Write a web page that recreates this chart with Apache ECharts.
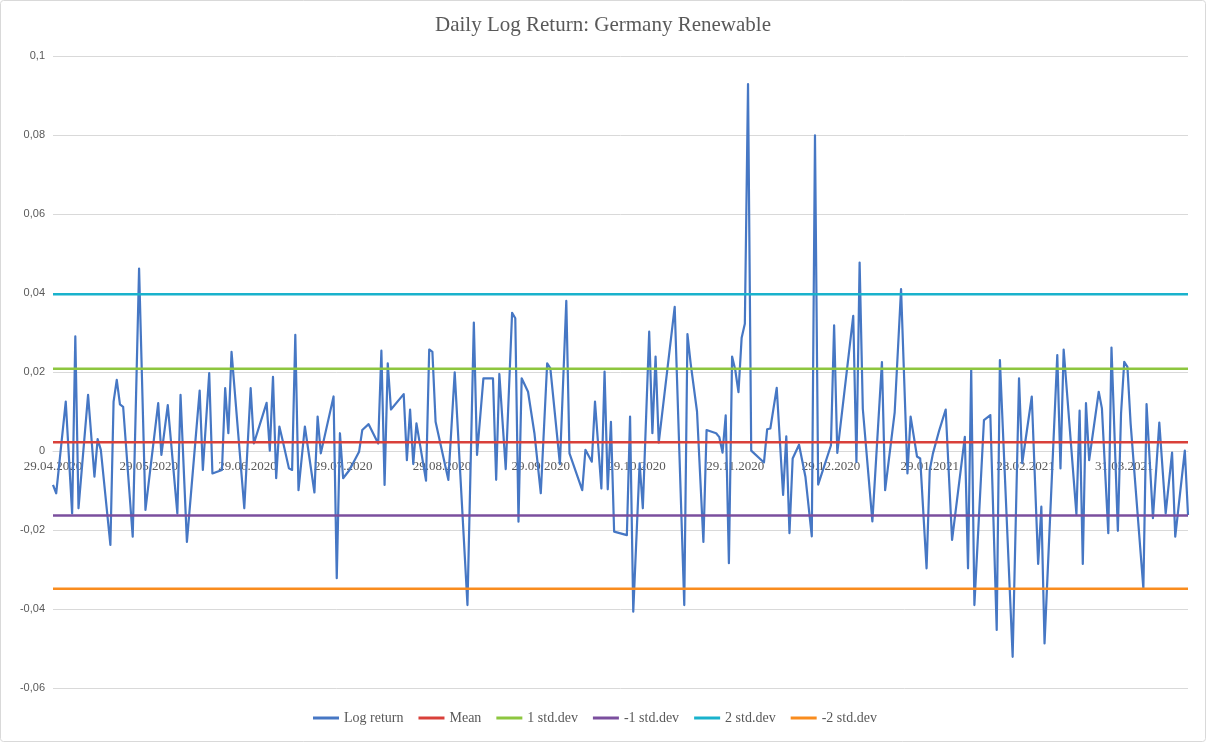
<!DOCTYPE html>
<html>
<head>
<meta charset="utf-8">
<title>Daily Log Return: Germany Renewable</title>
<script src="https://cdn.jsdelivr.net/npm/echarts@6.0.0/dist/echarts.min.js"></script>
<style>
    html, body { margin: 0; padding: 0; background: #fff; }
    #chart { width: 1206px; height: 742px; }
</style>
</head>
<body>
<div id="chart"></div>
<script>
// 日期轴: 从 29.04.2020 开始的日历天数
const startDate = [2020, 3, 29]
const dayCount = 357
const tickLabels = ['29.04.2020', '29.05.2020', '29.06.2020', '29.07.2020', '29.08.2020', '29.09.2020',
    '29.10.2020', '29.11.2020', '29.12.2020', '29.01.2021', '28.02.2021', '31.03.2021']

// 对数收益: 第几天 + 数值
const returnDays = [
    0, 1, 4, 6, 7, 8, 11, 13, 14, 15, 18, 19, 20, 21, 22, 25, 27, 29, 33, 34,
    36, 39, 40, 42, 46, 47, 49, 50, 53, 54, 55, 56, 60, 62, 63, 67, 68, 69, 70, 71,
    72, 74, 75, 76, 77, 79, 82, 83, 84, 88, 89, 90, 91, 93, 96, 97, 99, 102, 103, 104,
    105, 106, 110, 111, 112, 113, 114, 117, 118, 119, 120, 124, 126, 130, 132, 133, 135, 138, 139, 140,
    142, 144, 145, 146, 147, 149, 151, 153, 155, 156, 159, 161, 162, 166, 167, 169, 170, 172, 173, 174,
    175, 176, 180, 181, 182, 184, 185, 187, 188, 189, 190, 195, 198, 199, 200, 202, 204, 205, 208, 209,
    210, 211, 212, 213, 214, 215, 216, 217, 218, 219, 223, 224, 225, 227, 229, 230, 231, 232, 234, 236,
    238, 239, 240, 244, 245, 246, 251, 252, 253, 254, 257, 260, 261, 264, 266, 268, 269, 271, 272, 274,
    275, 276, 278, 280, 282, 286, 287, 288, 289, 292, 294, 296, 297, 301, 303, 304, 307, 309, 310, 311,
    315, 316, 317, 321, 322, 323, 324, 325, 328, 329, 331, 332, 334, 335, 336, 337, 338, 342, 343, 345,
    347, 349, 351, 352, 355, 356,
]
const returnValues = [
    -0.0086, -0.0107, 0.0125, -0.0158, 0.029, -0.0145, 0.0142, -0.0065, 0.003, 0.0003, -0.0238, 0.0125, 0.018, 0.0118, 0.0112, -0.0217, 0.0462, -0.0149, 0.0121, -0.001,
    0.0116, -0.0158, 0.0142, -0.023, 0.0153, -0.0048, 0.0197, -0.0057, -0.0048, 0.0159, 0.0045, 0.0251, -0.0145, 0.0159, 0.0019, 0.0122, 0.0001, 0.0188, -0.0069, 0.0062,
    0.0028, -0.0044, -0.0048, 0.0294, -0.0099, 0.0062, -0.0105, 0.0087, -0.0006, 0.0138, -0.0322, 0.0045, -0.0069, -0.0048, -0.0002, 0.0053, 0.0068, 0.0019, 0.0254, -0.0086,
    0.0222, 0.0105, 0.0144, -0.0023, 0.0105, -0.0033, 0.007, -0.0075, 0.0257, 0.0251, 0.0074, -0.0073, 0.0199, -0.039, 0.0325, -0.001, 0.0184, 0.0184, -0.0073, 0.0195,
    -0.0046, 0.035, 0.0336, -0.0179, 0.0184, 0.015, 0.0045, -0.0107, 0.0222, 0.0209, -0.0033, 0.038, -0.0006, -0.0099, 0.0003, -0.0027, 0.0125, -0.0095, 0.0201, -0.0097,
    0.0074, -0.0204, -0.0213, 0.0087, -0.0407, -0.0031, -0.0145, 0.0302, 0.0045, 0.0239, 0.0021, 0.0365, -0.039, 0.0296, 0.0222, 0.01, -0.023, 0.0053, 0.0045, 0.0035,
    -0.0004, 0.009, -0.0284, 0.0239, 0.0205, 0.0149, 0.0287, 0.0322, 0.0929, 0.0001, -0.0029, 0.0055, 0.0057, 0.016, -0.0111, 0.0037, -0.0208, -0.0019, 0.0016, -0.0065,
    -0.0216, 0.0799, -0.0085, 0.0014, 0.0318, -0.0005, 0.0342, -0.0028, 0.0477, 0.0107, -0.0178, 0.0225, -0.0099, 0.0098, 0.041, -0.0057, 0.0087, -0.0014, -0.0019, -0.0297,
    -0.0048, -0.0006, 0.0053, 0.0105, -0.0225, 0.0036, -0.0297, 0.0207, -0.039, 0.0078, 0.0091, -0.0453, 0.023, -0.0521, 0.0184, -0.0031, 0.0138, -0.0286, -0.0141, -0.0487,
    0.0243, -0.0044, 0.0257, -0.016, 0.0102, -0.0286, 0.0121, -0.0023, 0.015, 0.0108, -0.0208, 0.0262, -0.0202, 0.0095, 0.0226, 0.0213, 0.007, -0.0348, 0.0119, -0.017,
    0.0072, -0.0158, -0.0004, -0.0217, 0.0001, -0.0162,
]

// 均值与标准差线
const levelNames = ['Mean', '1 std.dev', '-1 std.dev', '2 std.dev', '-2 std.dev']
const levelValues = [0.0022, 0.0208, -0.0163, 0.0397, -0.0349]
const levelColors = ['#d9403a', '#8dc63f', '#7b4f9e', '#19b2cc', '#f98c1e']

// y 轴范围
const yMin = -0.06
const yMax = 0.1
const yStep = 0.02

// 生成每一天的标签 dd.mm.yyyy
const dayLabels = []
for (let i = 0; i < dayCount; i++) {
    const d = new Date(startDate[0], startDate[1], startDate[2] + i)
    const dd = String(d.getDate()).padStart(2, '0')
    const mm = String(d.getMonth() + 1).padStart(2, '0')
    dayLabels.push(dd + '.' + mm + '.' + d.getFullYear())
}

const textColor = '#595959'
const serif = '"Liberation Serif", "DejaVu Serif", serif'

// 网格高度, 用来把 x 轴移到 0 的位置
const gridTop = 56
const gridBottom = 54
const gridHeight = 742 - gridTop - gridBottom
const zeroOffset = -gridHeight * (0 - yMin) / (yMax - yMin)

const series = [
    {
        name: 'Log return',
        type: 'line',
        data: returnDays.map((d, i) => [d, returnValues[i]]),
        showSymbol: false,
        color: '#4677c4',
        lineStyle: { width: 2.2, color: '#4677c4', join: 'round' },
    },
]
levelNames.forEach((name, i) => {
    series.push({
        name: name,
        type: 'line',
        data: [[0, levelValues[i]], [dayCount - 1, levelValues[i]]],
        showSymbol: false,
        color: levelColors[i],
        lineStyle: { width: 2.5, color: levelColors[i] },
    })
})

const option = {
    animation: false,
    backgroundColor: '#fff',
    title: {
        text: 'Daily Log Return: Germany Renewable',
        left: 'center',
        top: 10,
        textStyle: { fontFamily: serif, fontSize: 21, fontWeight: 'normal', color: textColor },
    },
    legend: {
        left: 308,
        bottom: 12,
        icon: 'rect',
        itemWidth: 26,
        itemHeight: 3,
        itemGap: 15,
        textStyle: { fontFamily: serif, fontSize: 14, color: textColor },
        data: ['Log return'].concat(levelNames),
    },
    grid: { left: 53, right: 18, top: gridTop, bottom: gridBottom },
    xAxis: {
        type: 'category',
        data: dayLabels,
        boundaryGap: false,
        offset: zeroOffset,
        axisLine: { onZero: false, lineStyle: { color: '#d9d9d9' } },
        axisTick: { show: false },
        axisLabel: {
            interval: (index, value) => tickLabels.includes(value),
            hideOverlap: false,
            margin: 9,
            fontFamily: serif,
            fontSize: 13,
            color: textColor,
        },
    },
    yAxis: {
        type: 'value',
        min: yMin,
        max: yMax,
        interval: yStep,
        axisLine: { show: false },
        axisTick: { show: false },
        splitLine: { lineStyle: { color: '#d9d9d9', width: 1 } },
        axisLabel: {
            margin: 8,
            fontFamily: '"Liberation Sans", Arial, sans-serif',
            fontSize: 11,
            color: textColor,
            formatter: v => String(+v.toFixed(2)).replace('.', ','),
        },
    },
    graphic: [
        {
            type: 'rect',
            shape: { x: 0.5, y: 0.5, width: 1205, height: 741, r: 3 },
            style: { fill: null, stroke: '#d9d9d9', lineWidth: 1 },
            silent: true,
        },
    ],
    series: series,
}

const mychart = echarts.init(document.getElementById('chart'))
mychart.setOption(option)
</script>
</body>
</html>
